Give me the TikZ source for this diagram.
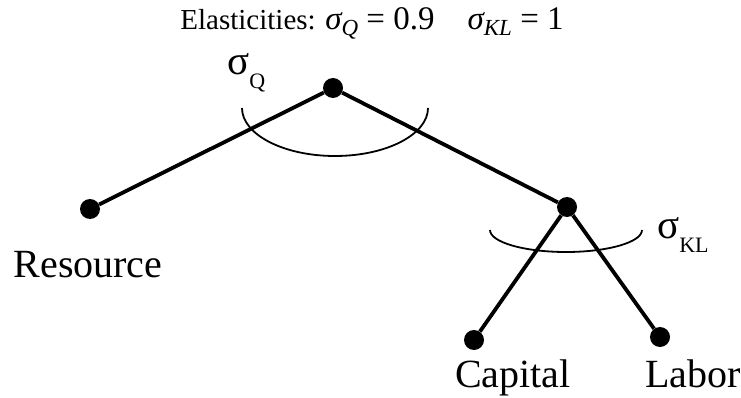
\documentclass[tikz,border=0pt]{standalone}
\usepackage{fontspec}
\setmainfont{Liberation Serif}
\usepackage{tikz}
\usetikzlibrary{positioning}

\tikzset{
  dot/.style={circle, fill=black, inner sep=0pt, minimum size=20pt},
  branch/.style={line width=3.8pt},
  elasarc/.style={line width=1.8pt},
  leaf/.style={anchor=base, font=\fontsize{40}{44}\selectfont},
  elas/.style={anchor=base west, inner sep=0pt, font=\fontsize{41}{44}\selectfont}
}
\newcommand{\subsig}[1]{\raisebox{-14pt}{\fontsize{22}{24}\selectfont #1}}
\newcommand{\subit}[1]{\raisebox{-6pt}{\fontsize{23}{24}\selectfont\itshape #1}}

\begin{document}
\begin{tikzpicture}[x=1pt, y=-1pt]
  \useasboundingbox (0,0) rectangle (741,398);
  % nesting tree
  \node[dot] (top) at (333,88) {};
  \node[dot] (res) at (90,209) {};
  \node[dot] (kl) at (567,207) {};
  \node[dot] (cap) at (474,340) {};
  \node[dot] (lab) at (660,337) {};
  \draw[branch] (top) -- (res);
  \draw[branch] (top) -- (kl);
  \draw[branch] (kl) -- (cap);
  \draw[branch] (kl) -- (lab);
  % elasticity arcs
  \draw[elasarc] (242,108) arc[start angle=180, end angle=360, x radius=93pt, y radius=48pt];
  \draw[elasarc] (490,230) arc[start angle=180, end angle=360, x radius=76pt, y radius=22pt];
  \node[elas] (sq) at (227,75) {σ\subsig{Q}};
  \node[elas] (skl) at (657,238) {σ\subsig{KL}};
  % labels
  \node[leaf] (resource) at (88,277) {Resource};
  \node[leaf] (capital) at (513,387) {Capital};
  \node[leaf] (labor) at (693,387) {Labor};
  \node[anchor=base, inner sep=0pt] (title) at (372,30)
    {\fontsize{29}{32}\selectfont Elasticities: \fontsize{33}{34}\selectfont
     {\itshape σ}\subit{Q} = 0.9\quad{\itshape σ}\subit{KL} = 1};
\end{tikzpicture}
\end{document}
